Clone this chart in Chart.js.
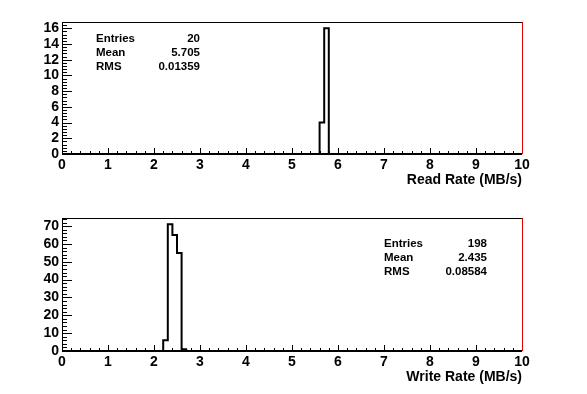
<!DOCTYPE html>
<html><head><meta charset="utf-8">
<script src="https://cdn.jsdelivr.net/npm/chart.js@4/dist/chart.umd.min.js"></script>
<style>
html,body{margin:0;padding:0;background:#fff;}
#wrap{position:relative;width:587px;height:394px;background:#fff;}
canvas{position:absolute;left:0;}
</style></head><body>
<div id="wrap">
<canvas id="c1" width="587" height="197" style="top:0;width:587px;height:197px"></canvas>
<canvas id="c2" width="587" height="197" style="top:197px;width:587px;height:197px"></canvas>
</div>
<script>
// ---- data ----
const readBinEdges = [5.6, 5.7, 5.8];
const readCounts = [4, 16];
const writeBinEdges = [2.2, 2.3, 2.4, 2.5, 2.6, 2.7];
const writeCounts = [6, 71, 65, 55, 1];
const xTickValues = [0, 1, 2, 3, 4, 5, 6, 7, 8, 9, 10];
const readYTicks = [0, 2, 4, 6, 8, 10, 12, 14, 16];
const writeYTicks = [0, 10, 20, 30, 40, 50, 60, 70];
const readStats = [["Entries", "20"], ["Mean", "5.705"], ["RMS", "0.01359"]];
const writeStats = [["Entries", "198"], ["Mean", "2.435"], ["RMS", "0.08584"]];
const readTitle = "Read Rate (MB/s)";
const writeTitle = "Write Rate (MB/s)";
const xRange = [0, 10];
const readYMax = 16.8;
const writeYMax = 74.55;

const FONT = "'Liberation Sans', Arial, Helvetica, sans-serif";

function histPoints(edges, counts) {
  const pts = [{x: edges[0], y: 0}];
  edges.forEach((e, i) => pts.push({x: e, y: i < counts.length ? counts[i] : 0}));
  return pts;
}

function framePlugin(cfg) {
  return {
    id: 'rootFrame',
    afterDatasetsDraw(chart) {
      const ctx = chart.ctx;
      const a = chart.chartArea;
      const xs = chart.scales.x, ys = chart.scales.y;
      ctx.save();
      ctx.lineCap = 'butt';
      ctx.strokeStyle = '#000';
      ctx.lineWidth = 1;
      for (let i = 0; i <= 50; i++) {
        const v = xRange[0] + i * (xRange[1] - xRange[0]) / 50;
        const px = Math.round(xs.getPixelForValue(v)) + 0.5;
        const len = (i % 5 === 0) ? 6 : 3;
        ctx.beginPath(); ctx.moveTo(px, a.bottom); ctx.lineTo(px, a.bottom - len); ctx.stroke();
      }
      const step = cfg.yMinor;
      for (let v = 0; v <= ys.max + 1e-9; v += step) {
        const py = Math.round(ys.getPixelForValue(v)) + 0.5;
        const major = Math.abs(v / cfg.yMajor - Math.round(v / cfg.yMajor)) < 1e-6;
        const len = major ? 10 : 5;
        ctx.beginPath(); ctx.moveTo(a.left, py); ctx.lineTo(a.left + len, py); ctx.stroke();
      }
      ctx.lineWidth = 1;
      ctx.beginPath(); ctx.moveTo(a.left, a.top + 0.5); ctx.lineTo(a.right, a.top + 0.5); ctx.stroke();
      ctx.beginPath(); ctx.moveTo(a.left + 0.5, a.top); ctx.lineTo(a.left + 0.5, a.bottom); ctx.stroke();
      ctx.lineWidth = 2;
      ctx.beginPath(); ctx.moveTo(a.left, a.bottom); ctx.lineTo(a.right, a.bottom); ctx.stroke();
      ctx.strokeStyle = '#e00000';
      ctx.lineWidth = 1;
      ctx.beginPath(); ctx.moveTo(a.right + 0.5, a.top); ctx.lineTo(a.right + 0.5, a.bottom); ctx.stroke();
      ctx.fillStyle = '#000';
      ctx.font = 'bold 11.5px ' + FONT;
      ctx.textBaseline = 'middle';
      cfg.stats.forEach((row, i) => {
        const y = cfg.statY + i * cfg.statDy;
        ctx.textAlign = 'left'; ctx.fillText(row[0], cfg.statLeft, y);
        ctx.textAlign = 'right'; ctx.fillText(row[1], cfg.statRight, y);
      });
      ctx.restore();
    }
  };
}

function makeChart(id, edges, counts, yTicks, yMax, title, cfg) {
  return new Chart(document.getElementById(id), {
    type: 'line',
    data: {
      datasets: [{
        data: histPoints(edges, counts),
        stepped: 'before',
        borderColor: '#000',
        borderWidth: 2,
        pointRadius: 0,
        fill: false,
        clip: false
      }]
    },
    options: {
      responsive: false,
      animation: false,
      devicePixelRatio: 1,
      layout: {padding: {left: 0, top: cfg.top, right: 65, bottom: 0}},
      plugins: {legend: {display: false}, tooltip: {enabled: false}},
      scales: {
        x: {
          type: 'linear', min: xRange[0], max: xRange[1],
          afterBuildTicks: s => { s.ticks = xTickValues.map(v => ({value: v})); },
          afterFit: s => { s.height = cfg.xh; },
          grid: {display: false, drawTicks: false},
          border: {display: false},
          ticks: {color: '#000', font: {family: FONT, size: 14, weight: 'bold'}, padding: 3, maxRotation: 0, autoSkip: false},
          title: {display: true, text: title, align: 'end', color: '#000',
                  font: {family: FONT, size: 14, weight: 'bold'}, padding: {top: 0, bottom: 8}}
        },
        y: {
          type: 'linear', min: 0, max: yMax,
          afterBuildTicks: s => { s.ticks = yTicks.map(v => ({value: v})); },
          afterFit: s => { s.width = 62; },
          grid: {display: false, drawTicks: false},
          border: {display: false},
          ticks: {color: '#000', font: {family: FONT, size: 14, weight: 'bold'}, padding: 3, autoSkip: false}
        }
      }
    },
    plugins: [framePlugin(cfg)]
  });
}

makeChart('c1', readBinEdges, readCounts, readYTicks, readYMax, readTitle,
  {top: 22, xh: 43, yMajor: 2, yMinor: 0.4, stats: readStats, statLeft: 96, statRight: 200, statY: 39, statDy: 13.7});
makeChart('c2', writeBinEdges, writeCounts, writeYTicks, writeYMax, writeTitle,
  {top: 21, xh: 43, yMajor: 10, yMinor: 2, stats: writeStats, statLeft: 384, statRight: 487, statY: 47, statDy: 13.7});
</script>
</body></html>
